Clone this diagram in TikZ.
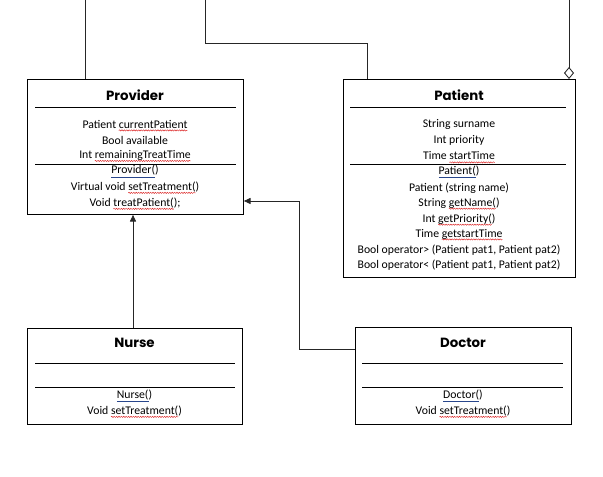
\documentclass[tikz,border=0pt]{standalone}
\usepackage{fontspec}
\setmainfont{Carlito}
\newfontfamily\titlefont{Poppins}
\usetikzlibrary{arrows.meta,decorations.pathmorphing}
\definecolor{ulblue}{RGB}{40,70,140}
\definecolor{sqred}{RGB}{220,40,40}
\newcommand{\ctor}[1]{{\color{ulblue}\underline{\color{black}#1}}}
\newcommand{\sq}[1]{\setbox0\hbox{#1}\leavevmode\rlap{\tikz[baseline=0pt,x=1pt,y=1pt]{\useasboundingbox (0,0);\draw[sqred,line width=0.35pt,decorate,decoration={snake,amplitude=0.45pt,segment length=1.8pt}] (0,-1.8) -- (\wd0,-1.8);}}\box0}
\begin{document}
\begin{tikzpicture}[x=0.75pt,y=-0.75pt,
  box/.style={draw=black,line width=0.65pt,anchor=north west,inner sep=0pt},
  title/.style={font=\titlefont\bfseries\fontsize{10}{12}\selectfont,inner sep=0pt},
  txt/.style={font=\fontsize{8.8}{10}\selectfont,inner sep=0pt},
  sep/.style={line width=0.65pt},
  conn/.style={draw=black!85,line width=0.65pt},
  gen/.style={conn,-{Triangle[length=5pt,width=4.5pt]}},
  agg/.style={conn,-{Diamond[open,length=9pt,width=7.5pt]}}]
\useasboundingbox (0,0) rectangle (603,477);
% boxes
\node[box,minimum width=162pt,minimum height=101.25pt] (prov) at (27,79) {};
\node[box,minimum width=174pt,minimum height=148.5pt] (pat) at (343,79) {};
\node[box,minimum width=161.25pt,minimum height=72pt] (nur) at (27,328) {};
\node[box,minimum width=162pt,minimum height=72.75pt] (doc) at (355,327) {};
% Provider
\node[title] (provt) at (135,95) {Provider};
\draw[sep] (35,107) -- (236,107);
\node[txt] (p1) at (135,124) {Patient \sq{currentPatient}};
\node[txt] (p2) at (135,140) {Bool available};
\node[txt] (p3) at (135,155.5) {Int \sq{remainingTreatTime}};
\draw[sep] (35,164) -- (236,164);
\node[txt] (p4) at (135,171.5) {\ctor{Provider(})};
\node[txt] (p5) at (135,187) {Virtual void \sq{setTreatment(})};
\node[txt] (p6) at (135,203) {Void \sq{treatPatient(});};
% Patient
\node[title] (patt) at (459,95) {Patient};
\draw[sep] (350,107) -- (566,107);
\node[txt] (q1) at (459,124) {String surname};
\node[txt] (q2) at (459,140) {Int priority};
\node[txt] (q3) at (459,156) {Time \sq{startTime}};
\draw[sep] (350,164) -- (566,164);
\node[txt] (q4) at (459,172) {\ctor{Patient(})};
\node[txt] (q5) at (459,188) {Patient (string name)};
\node[txt] (q6) at (459,203) {String \sq{getName(})};
\node[txt] (q7) at (459,219) {Int \sq{getPriority(})};
\node[txt] (q8) at (459,234) {Time \sq{getstartTime}};
\node[txt] (q9) at (459,250) {Bool operator> (Patient pat1, Patient pat2)};
\node[txt] (q10) at (459,265) {Bool operator< (Patient pat1, Patient pat2)};
% Nurse
\node[title] (nurt) at (134.5,343) {Nurse};
\draw[sep] (35,363) -- (235,363);
\draw[sep] (35,387) -- (235,387);
\node[txt] (n1) at (134.5,396) {\ctor{Nurse(})};
\node[txt] (n2) at (134.5,411) {Void \sq{setTreatment(})};
% Doctor
\node[title] (doct) at (463,343) {Doctor};
\draw[sep] (362,363) -- (563,363);
\draw[sep] (362,387) -- (563,387);
\node[txt] (d1) at (463,396) {\ctor{Doctor(})};
\node[txt] (d2) at (463,411) {Void \sq{setTreatment(})};
% connectors
\coordinate (t1) at (85,0);
\draw[conn] (t1) -- (t1 |- prov.north);
\coordinate (t2) at (205,0);
\coordinate (b2) at (367,43);
\draw[conn] (t2) |- (b2) -- (b2 |- pat.north);
\coordinate (t3) at (569,0);
\draw[agg] (t3) -- (t3 |- pat.north);
\coordinate (nt) at (133,328);
\draw[gen] (nt) -- (nt |- prov.south);
\coordinate (dl) at (355,349);
\coordinate (bend) at (299,201);
\draw[gen] (dl) -| (bend) -- (bend -| prov.east);
\end{tikzpicture}
\end{document}
